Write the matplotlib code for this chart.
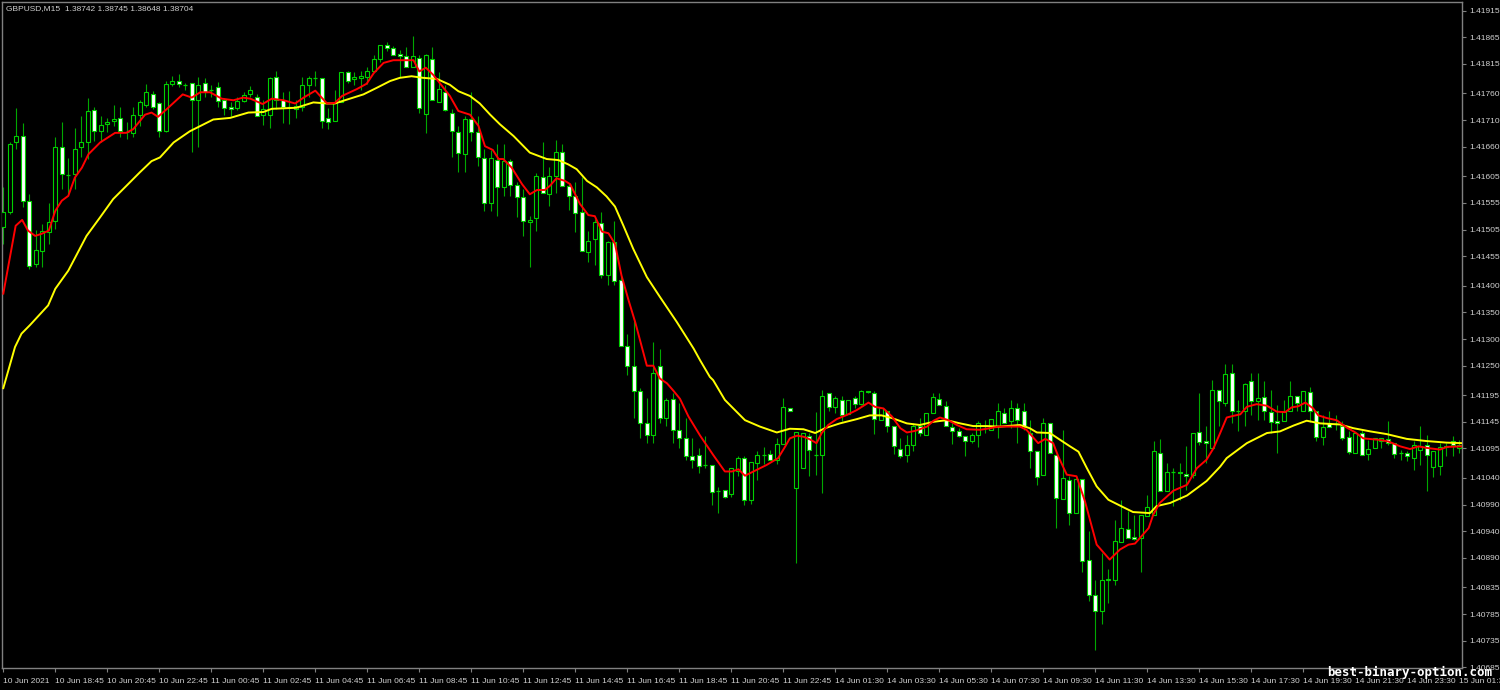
import numpy as np
import matplotlib
matplotlib.use('Agg')
import matplotlib.pyplot as plt

# GBPUSD M15 candles
opens = [1.41510, 1.41538, 1.41668, 1.41681, 1.41558, 1.41441, 1.41465, 1.41500, 1.41521, 1.41659,
         1.41607, 1.41609, 1.41659, 1.41668, 1.41728, 1.41689, 1.41702, 1.41709, 1.41713, 1.41687,
         1.41685, 1.41719, 1.41739, 1.41758, 1.41741, 1.41689, 1.41778, 1.41784, 1.41775, 1.41780,
         1.41748, 1.41780, 1.41767, 1.41771, 1.41748, 1.41734, 1.41732, 1.41745, 1.41758, 1.41754,
         1.41719, 1.41719, 1.41790, 1.41748, 1.41734, 1.41730, 1.41735, 1.41775, 1.41788, 1.41788,
         1.41713, 1.41709, 1.41743, 1.41799, 1.41786, 1.41788, 1.41791, 1.41801, 1.41825, 1.41851,
         1.41845, 1.41834, 1.41829, 1.41810, 1.41827, 1.41722, 1.41825, 1.41743, 1.41762, 1.41724,
         1.41687, 1.41646, 1.41711, 1.41687, 1.41638, 1.41554, 1.41635, 1.41584, 1.41633, 1.41588,
         1.41566, 1.41519, 1.41526, 1.41603, 1.41571, 1.41605, 1.41651, 1.41586, 1.41568, 1.41538,
         1.41463, 1.41487, 1.41517, 1.41420, 1.41482, 1.41411, 1.41286, 1.41250, 1.41202, 1.41142,
         1.41120, 1.41249, 1.41152, 1.41187, 1.41129, 1.41114, 1.41081, 1.41083, 1.41064, 1.41064,
         1.41015, 1.41017, 1.41010, 1.41053, 1.41077, 1.40999, 1.41068, 1.41083, 1.41084, 1.41073,
         1.41103, 1.41170, 1.41021, 1.41058, 1.41118, 1.41083, 1.41083, 1.41198, 1.41172, 1.41185,
         1.41159, 1.41189, 1.41178, 1.41202, 1.41198, 1.41148, 1.41165, 1.41138, 1.41094, 1.41083,
         1.41101, 1.41138, 1.41120, 1.41161, 1.41187, 1.41174, 1.41135, 1.41127, 1.41118, 1.41109,
         1.41120, 1.41137, 1.41129, 1.41138, 1.41161, 1.41146, 1.41170, 1.41166, 1.41124, 1.41090,
         1.41045, 1.41142, 1.41083, 1.41000, 1.41036, 1.40974, 1.41038, 1.40887, 1.40821, 1.40790,
         1.40848, 1.40849, 1.40920, 1.40945, 1.40930, 1.40928, 1.40969, 1.40971, 1.41086, 1.41015,
         1.41051, 1.41051, 1.41047, 1.41045, 1.41125, 1.41109, 1.41096, 1.41204, 1.41181, 1.41237,
         1.41166, 1.41165, 1.41221, 1.41183, 1.41191, 1.41163, 1.41146, 1.41146, 1.41165, 1.41194,
         1.41166, 1.41200, 1.41166, 1.41116, 1.41142, 1.41140, 1.41138, 1.41116, 1.41086, 1.41124,
         1.41084, 1.41096, 1.41109, 1.41112, 1.41105, 1.41086, 1.41086, 1.41077, 1.41092, 1.41101,
         1.41060, 1.41062, 1.41097, 1.41109, 1.41096]

highs = [1.41584, 1.41668, 1.41732, 1.41704, 1.41571, 1.41504, 1.41515, 1.41554, 1.41679, 1.41707,
         1.41638, 1.41696, 1.41717, 1.41752, 1.41734, 1.41717, 1.41713, 1.41739, 1.41734, 1.41706,
         1.41735, 1.41747, 1.41778, 1.41765, 1.41743, 1.41784, 1.41793, 1.41797, 1.41780, 1.41780,
         1.41790, 1.41788, 1.41776, 1.41782, 1.41752, 1.41743, 1.41754, 1.41763, 1.41773, 1.41758,
         1.41748, 1.41791, 1.41801, 1.41762, 1.41765, 1.41748, 1.41791, 1.41793, 1.41801, 1.41788,
         1.41732, 1.41767, 1.41799, 1.41801, 1.41799, 1.41801, 1.41810, 1.41832, 1.41851, 1.41857,
         1.41849, 1.41842, 1.41847, 1.41868, 1.41832, 1.41834, 1.41847, 1.41799, 1.41776, 1.41730,
         1.41698, 1.41717, 1.41763, 1.41717, 1.41655, 1.41653, 1.41666, 1.41666, 1.41637, 1.41594,
         1.41581, 1.41530, 1.41610, 1.41668, 1.41622, 1.41672, 1.41666, 1.41592, 1.41594, 1.41603,
         1.41502, 1.41525, 1.41538, 1.41484, 1.41521, 1.41418, 1.41310, 1.41333, 1.41208, 1.41189,
         1.41295, 1.41282, 1.41189, 1.41198, 1.41180, 1.41152, 1.41114, 1.41096, 1.41118, 1.41064,
         1.41023, 1.41017, 1.41058, 1.41081, 1.41081, 1.41070, 1.41090, 1.41097, 1.41092, 1.41114,
         1.41189, 1.41170, 1.41125, 1.41124, 1.41124, 1.41163, 1.41204, 1.41198, 1.41194, 1.41194,
         1.41185, 1.41193, 1.41204, 1.41202, 1.41202, 1.41170, 1.41166, 1.41138, 1.41114, 1.41120,
         1.41142, 1.41153, 1.41161, 1.41198, 1.41198, 1.41183, 1.41142, 1.41133, 1.41118, 1.41124,
         1.41146, 1.41148, 1.41150, 1.41180, 1.41170, 1.41185, 1.41180, 1.41180, 1.41148, 1.41090,
         1.41152, 1.41142, 1.41083, 1.41129, 1.41043, 1.41040, 1.41038, 1.40941, 1.40848, 1.40900,
         1.40870, 1.40961, 1.40999, 1.40978, 1.40971, 1.40971, 1.41008, 1.41109, 1.41112, 1.41068,
         1.41058, 1.41068, 1.41099, 1.41124, 1.41198, 1.41138, 1.41224, 1.41204, 1.41254, 1.41254,
         1.41185, 1.41217, 1.41236, 1.41236, 1.41222, 1.41204, 1.41176, 1.41185, 1.41221, 1.41194,
         1.41202, 1.41211, 1.41166, 1.41157, 1.41166, 1.41157, 1.41146, 1.41127, 1.41124, 1.41129,
         1.41111, 1.41114, 1.41114, 1.41146, 1.41105, 1.41092, 1.41090, 1.41109, 1.41137, 1.41120,
         1.41090, 1.41105, 1.41105, 1.41118, 1.41111]

lows = [1.41478, 1.41534, 1.41655, 1.41547, 1.41431, 1.41435, 1.41435, 1.41478, 1.41506, 1.41581,
        1.41571, 1.41581, 1.41640, 1.41637, 1.41670, 1.41668, 1.41687, 1.41698, 1.41678, 1.41674,
        1.41678, 1.41698, 1.41735, 1.41730, 1.41679, 1.41687, 1.41773, 1.41771, 1.41767, 1.41650,
        1.41659, 1.41754, 1.41754, 1.41734, 1.41720, 1.41717, 1.41728, 1.41743, 1.41754, 1.41717,
        1.41700, 1.41696, 1.41730, 1.41704, 1.41702, 1.41713, 1.41726, 1.41754, 1.41773, 1.41696,
        1.41694, 1.41709, 1.41743, 1.41780, 1.41775, 1.41767, 1.41778, 1.41799, 1.41819, 1.41840,
        1.41831, 1.41791, 1.41810, 1.41810, 1.41724, 1.41685, 1.41747, 1.41743, 1.41726, 1.41640,
        1.41612, 1.41612, 1.41670, 1.41623, 1.41540, 1.41540, 1.41530, 1.41568, 1.41568, 1.41528,
        1.41493, 1.41435, 1.41502, 1.41573, 1.41549, 1.41573, 1.41586, 1.41541, 1.41500, 1.41465,
        1.41444, 1.41439, 1.41415, 1.41402, 1.41402, 1.41286, 1.41232, 1.41152, 1.41114, 1.41105,
        1.41105, 1.41142, 1.41137, 1.41105, 1.41096, 1.41073, 1.41058, 1.41049, 1.41058, 1.40989,
        1.40974, 1.41002, 1.41004, 1.41043, 1.40989, 1.40991, 1.41036, 1.41066, 1.41073, 1.41066,
        1.41103, 1.41165, 1.40881, 1.41058, 1.41043, 1.41045, 1.41012, 1.41165, 1.41161, 1.41146,
        1.41159, 1.41170, 1.41176, 1.41198, 1.41122, 1.41148, 1.41125, 1.41084, 1.41077, 1.41070,
        1.41090, 1.41118, 1.41120, 1.41161, 1.41176, 1.41137, 1.41103, 1.41116, 1.41081, 1.41105,
        1.41097, 1.41124, 1.41129, 1.41114, 1.41142, 1.41133, 1.41105, 1.41129, 1.41058, 1.41027,
        1.41045, 1.41086, 1.40946, 1.41000, 1.40952, 1.40974, 1.40864, 1.40810, 1.40717, 1.40767,
        1.40806, 1.40840, 1.40920, 1.40928, 1.40924, 1.40864, 1.40969, 1.40971, 1.41015, 1.41015,
        1.40987, 1.40999, 1.41017, 1.41040, 1.41101, 1.41068, 1.41096, 1.41138, 1.41174, 1.41142,
        1.41127, 1.41138, 1.41157, 1.41148, 1.41148, 1.41124, 1.41086, 1.41146, 1.41165, 1.41165,
        1.41166, 1.41144, 1.41109, 1.41101, 1.41135, 1.41129, 1.41111, 1.41084, 1.41086, 1.41083,
        1.41073, 1.41096, 1.41096, 1.41101, 1.41077, 1.41073, 1.41071, 1.41055, 1.41064, 1.41015,
        1.41042, 1.41045, 1.41081, 1.41081, 1.41086]

closes = [1.41538, 1.41666, 1.41681, 1.41558, 1.41437, 1.41467, 1.41502, 1.41519, 1.41659, 1.41609,
          1.41607, 1.41655, 1.41668, 1.41726, 1.41689, 1.41700, 1.41707, 1.41711, 1.41689, 1.41688,
          1.41719, 1.41743, 1.41763, 1.41735, 1.41689, 1.41778, 1.41784, 1.41778, 1.41775, 1.41748,
          1.41776, 1.41763, 1.41767, 1.41745, 1.41732, 1.41730, 1.41745, 1.41756, 1.41767, 1.41717,
          1.41730, 1.41788, 1.41747, 1.41734, 1.41734, 1.41737, 1.41775, 1.41788, 1.41788, 1.41709,
          1.41707, 1.41741, 1.41799, 1.41784, 1.41790, 1.41793, 1.41801, 1.41825, 1.41851, 1.41844,
          1.41832, 1.41829, 1.41810, 1.41829, 1.41732, 1.41831, 1.41748, 1.41769, 1.41728, 1.41689,
          1.41648, 1.41711, 1.41687, 1.41640, 1.41554, 1.41638, 1.41584, 1.41633, 1.41588, 1.41566,
          1.41521, 1.41523, 1.41605, 1.41573, 1.41605, 1.41650, 1.41586, 1.41568, 1.41536, 1.41465,
          1.41484, 1.41519, 1.41420, 1.41482, 1.41409, 1.41286, 1.41250, 1.41202, 1.41142, 1.41120,
          1.41236, 1.41152, 1.41185, 1.41129, 1.41114, 1.41081, 1.41073, 1.41062, 1.41064, 1.41014,
          1.41015, 1.41004, 1.41058, 1.41077, 1.40999, 1.41070, 1.41083, 1.41083, 1.41073, 1.41103,
          1.41172, 1.41165, 1.41125, 1.41124, 1.41092, 1.41083, 1.41193, 1.41172, 1.41189, 1.41157,
          1.41185, 1.41178, 1.41202, 1.41201, 1.41150, 1.41170, 1.41137, 1.41099, 1.41081, 1.41101,
          1.41137, 1.41124, 1.41161, 1.41191, 1.41176, 1.41138, 1.41127, 1.41118, 1.41109, 1.41120,
          1.41142, 1.41137, 1.41150, 1.41166, 1.41142, 1.41170, 1.41148, 1.41137, 1.41090, 1.41042,
          1.41142, 1.41086, 1.41002, 1.41040, 1.40974, 1.41038, 1.40885, 1.40821, 1.40790, 1.40849,
          1.40851, 1.40922, 1.40946, 1.40928, 1.40926, 1.40971, 1.40986, 1.41090, 1.41015, 1.41051,
          1.41051, 1.41049, 1.41043, 1.41124, 1.41107, 1.41105, 1.41204, 1.41183, 1.41234, 1.41165,
          1.41166, 1.41215, 1.41183, 1.41189, 1.41165, 1.41144, 1.41142, 1.41165, 1.41194, 1.41181,
          1.41202, 1.41166, 1.41116, 1.41135, 1.41135, 1.41140, 1.41114, 1.41088, 1.41124, 1.41083,
          1.41094, 1.41114, 1.41114, 1.41105, 1.41084, 1.41086, 1.41081, 1.41101, 1.41099, 1.41083,
          1.41090, 1.41097, 1.41099, 1.41101, 1.41101]

# moving averages (bar index, price) sampled along the lines
red_idx = [0, 1.9, 2.9, 3.8, 4.9, 5.9, 7.0, 8.0, 9.0, 10.0,
           11.0, 12.1, 13.1, 14.9, 17.2, 18.9, 20.0, 21.8, 22.8, 23.8,
           25.1, 26.7, 27.6, 29.0, 30.3, 31.8, 33.6, 35.4, 36.9, 38.0,
           39.9, 41.3, 43.1, 44.9, 46.2, 48.0, 49.8, 51.0, 52.1, 54.4,
           55.9, 57.0, 58.5, 60.0, 63.1, 64.0, 65.0, 66.1, 66.9, 68.7,
           70.0, 71.8, 73.1, 74.1, 75.3, 76.2, 76.9, 78.2, 79.8, 81.0,
           82.1, 83.3, 84.1, 85.1, 86.4, 87.2, 88.7, 90.0, 91.0, 92.1,
           93.1, 94.1, 95.1, 96.2, 97.2, 98.1, 99.0, 100.0, 101.0, 102.1,
           103.1, 104.1, 105.4, 107.2, 109.2, 111.0, 112.1, 113.1, 114.1, 115.4,
           117.4, 119.2, 120.3, 121.0, 122.1, 123.1, 124.1, 125.1, 125.9, 126.9,
           128.2, 129.8, 131.3, 133.1, 134.1, 135.4, 136.7, 138.0, 139.0, 140.3,
           142.1, 143.1, 144.1, 145.4, 146.7, 148.2, 150.3, 151.8, 153.1, 156.4,
           157.4, 159.2, 160.3, 161.5, 162.3, 163.6, 165.1, 166.4, 168.2, 170.2,
           171.8, 173.1, 174.1, 176.2, 176.9, 177.9, 180.0, 182.1, 183.6, 185.1,
           186.2, 187.2, 188.2, 189.2, 190.3, 191.3, 192.8, 194.4, 195.9, 197.2,
           198.2, 199.2, 200.3, 201.5, 202.3, 203.6, 205.1, 206.7, 208.0, 209.2,
           211.8, 213.1, 214.9, 216.4, 217.7, 219.0, 221.0, 222.1, 224.4]
red_ma = [1.41385, 1.41512, 1.41523, 1.41503, 1.41493, 1.41497, 1.41503, 1.41540, 1.41559, 1.41568,
          1.41602, 1.41621, 1.41646, 1.41668, 1.41686, 1.41686, 1.41693, 1.41720, 1.41724, 1.41716,
          1.41730, 1.41748, 1.41758, 1.41752, 1.41762, 1.41762, 1.41750, 1.41747, 1.41752, 1.41750,
          1.41740, 1.41750, 1.41747, 1.41741, 1.41752, 1.41765, 1.41741, 1.41742, 1.41755, 1.41768,
          1.41778, 1.41798, 1.41817, 1.41822, 1.41822, 1.41801, 1.41808, 1.41795, 1.41783, 1.41755,
          1.41727, 1.41720, 1.41699, 1.41661, 1.41654, 1.41637, 1.41637, 1.41621, 1.41590, 1.41571,
          1.41579, 1.41579, 1.41587, 1.41601, 1.41596, 1.41590, 1.41553, 1.41532, 1.41530, 1.41501,
          1.41498, 1.41478, 1.41419, 1.41372, 1.41332, 1.41291, 1.41250, 1.41250, 1.41226, 1.41217,
          1.41203, 1.41188, 1.41155, 1.41119, 1.41083, 1.41052, 1.41052, 1.41056, 1.41044, 1.41052,
          1.41064, 1.41077, 1.41099, 1.41114, 1.41119, 1.41117, 1.41112, 1.41105, 1.41124, 1.41139,
          1.41150, 1.41158, 1.41167, 1.41181, 1.41173, 1.41170, 1.41155, 1.41133, 1.41125, 1.41128,
          1.41136, 1.41147, 1.41153, 1.41148, 1.41139, 1.41131, 1.41130, 1.41133, 1.41136, 1.41136,
          1.41130, 1.41105, 1.41113, 1.41105, 1.41080, 1.41046, 1.41043, 1.40996, 1.40915, 1.40887,
          1.40906, 1.40915, 1.40917, 1.40946, 1.40971, 1.40993, 1.41016, 1.41027, 1.41058, 1.41074,
          1.41096, 1.41124, 1.41153, 1.41156, 1.41159, 1.41173, 1.41178, 1.41175, 1.41164, 1.41163,
          1.41172, 1.41174, 1.41181, 1.41170, 1.41157, 1.41152, 1.41148, 1.41134, 1.41125, 1.41114,
          1.41111, 1.41108, 1.41099, 1.41094, 1.41099, 1.41096, 1.41093, 1.41098, 1.41099]

yellow_idx = [0, 1.8, 2.8, 4.1, 6.9, 8.0, 10.0, 12.8, 14.9, 16.9,
              19.2, 21.0, 22.8, 24.1, 26.2, 28.7, 32.3, 34.9, 37.7, 40.0,
              41.3, 45.1, 47.7, 49.8, 51.0, 52.8, 55.4, 57.4, 59.5, 61.0,
              62.8, 64.6, 66.7, 68.7, 70.0, 71.8, 73.3, 74.9, 76.4, 78.5,
              81.0, 83.6, 85.4, 86.9, 88.2, 89.8, 91.3, 92.8, 94.1, 95.4,
              96.9, 99.0, 101.0, 103.6, 106.2, 107.2, 108.7, 109.2, 111.0, 112.3,
              114.1, 116.4, 119.0, 121.0, 123.1, 124.9, 126.4, 128.7, 131.3, 133.3,
              135.1, 136.7, 139.0, 141.0, 143.1, 145.1, 147.2, 149.2, 151.3, 153.3,
              156.4, 157.9, 159.0, 161.0, 162.6, 164.1, 165.4, 166.7, 168.2, 170.0,
              172.3, 173.8, 176.4, 177.4, 179.5, 182.1, 185.1, 187.2, 188.2, 191.3,
              194.4, 196.4, 198.5, 200.5, 202.6, 205.6, 207.7, 210.3, 212.8, 215.9,
              218.9, 222.0, 224.4]
yellow_ma = [1.41208, 1.41285, 1.41310, 1.41326, 1.41363, 1.41394, 1.41428, 1.41493, 1.41528, 1.41562,
             1.41590, 1.41612, 1.41633, 1.41640, 1.41668, 1.41689, 1.41711, 1.41714, 1.41724, 1.41725,
             1.41731, 1.41733, 1.41743, 1.41741, 1.41741, 1.41748, 1.41758, 1.41770, 1.41783, 1.41789,
             1.41792, 1.41789, 1.41787, 1.41776, 1.41764, 1.41755, 1.41741, 1.41720, 1.41702, 1.41680,
             1.41649, 1.41637, 1.41635, 1.41627, 1.41618, 1.41596, 1.41584, 1.41567, 1.41548, 1.41512,
             1.41469, 1.41416, 1.41379, 1.41332, 1.41282, 1.41260, 1.41229, 1.41223, 1.41186, 1.41170,
             1.41148, 1.41136, 1.41125, 1.41132, 1.41131, 1.41124, 1.41133, 1.41142, 1.41150, 1.41157,
             1.41157, 1.41152, 1.41142, 1.41139, 1.41145, 1.41148, 1.41142, 1.41137, 1.41137, 1.41136,
             1.41139, 1.41133, 1.41125, 1.41124, 1.41111, 1.41099, 1.41089, 1.41058, 1.41024, 1.40999,
             1.40985, 1.40976, 1.40974, 1.40987, 1.40993, 1.41007, 1.41034, 1.41061, 1.41077, 1.41105,
             1.41124, 1.41127, 1.41138, 1.41147, 1.41142, 1.41140, 1.41133, 1.41127, 1.41122, 1.41113,
             1.41109, 1.41106, 1.41105]

price_labels = ['1.41915', '1.41865', '1.41815', '1.41760', '1.41710', '1.41660', '1.41605',
                '1.41555', '1.41505', '1.41455', '1.41400', '1.41350', '1.41300', '1.41250',
                '1.41195', '1.41145', '1.41095', '1.41040', '1.40990', '1.40940', '1.40890',
                '1.40835', '1.40785', '1.40735', '1.40685']

time_labels = ['10 Jun 2021', '10 Jun 18:45', '10 Jun 20:45', '10 Jun 22:45', '11 Jun 00:45',
               '11 Jun 02:45', '11 Jun 04:45', '11 Jun 06:45', '11 Jun 08:45', '11 Jun 10:45',
               '11 Jun 12:45', '11 Jun 14:45', '11 Jun 16:45', '11 Jun 18:45', '11 Jun 20:45',
               '11 Jun 22:45', '14 Jun 01:30', '14 Jun 03:30', '14 Jun 05:30', '14 Jun 07:30',
               '14 Jun 09:30', '14 Jun 11:30', '14 Jun 13:30', '14 Jun 15:30', '14 Jun 17:30',
               '14 Jun 19:30', '14 Jun 21:30', '14 Jun 23:30', '15 Jun 01:30']
label_step = 8  # one time label every 8 bars (2 hours of M15)

o = np.array(opens)
h = np.array(highs)
l = np.array(lows)
c = np.array(closes)
x = np.arange(len(o))

wick_green = '#00a800'
edge_green = '#00d000'
grey = '#808080'
txt = '#d0d0d0'

fig = plt.figure(figsize=(15, 6.9), dpi=100, facecolor='black')
ax = fig.add_axes([2 / 1500, 22 / 690, 1460 / 1500, 666 / 690])
ax.set_facecolor('black')

# wicks
ax.vlines(x, np.minimum(l, np.minimum(o, c)), np.maximum(h, np.maximum(o, c)),
          color=wick_green, linewidth=0.8, zorder=2)

bull = c > o
bear = c < o
doji = c == o
ax.bar(x[bull], (c - o)[bull], bottom=o[bull], width=0.64, color='black',
       edgecolor=edge_green, linewidth=0.8, zorder=3)
ax.bar(x[bear], (o - c)[bear], bottom=c[bear], width=0.64, color='white',
       edgecolor=edge_green, linewidth=0.8, zorder=3)
ax.hlines(o[doji], x[doji] - 0.32, x[doji] + 0.32, color=edge_green, linewidth=0.9, zorder=3)

# moving averages
ax.plot(yellow_idx, yellow_ma, color='#ffff00', linewidth=1.4, zorder=4)
ax.plot(red_idx, red_ma, color='#ff0000', linewidth=1.4, zorder=5)

ax.set_xlim(-0.2, 224.4)
ax.set_ylim(1.40684, 1.41931)

# price axis on the right
ax.yaxis.tick_right()
ax.set_yticks([float(p) for p in price_labels])
ax.set_yticklabels(price_labels)
ax.tick_params(axis='y', colors=grey, length=3, width=0.8, pad=2,
               labelcolor=txt, labelsize=6)

ax.set_xticks(np.arange(len(time_labels)) * label_step)
ax.set_xticklabels(time_labels)
ax.tick_params(axis='x', colors=grey, length=3, width=0.8, pad=4,
               labelcolor=txt, labelsize=6)
for lab in ax.get_xticklabels():
    lab.set_horizontalalignment('left')
for lab in ax.get_xticklabels() + ax.get_yticklabels():
    lab.set_fontfamily('Liberation Sans')

for sp in ax.spines.values():
    sp.set_color(grey)
    sp.set_linewidth(1)

fig.text(6 / 1500, 1 - 9 / 690, 'GBPUSD,M15  1.38742 1.38745 1.38648 1.38704',
         color=txt, fontsize=6, family='Liberation Sans', va='center', ha='left')

# site watermark drawn over the bottom-right corner, as in the screenshot
fig.text(1410 / 1500, 1 - 672 / 690, 'best-binary-option.com', color='white',
         fontsize=9, family='DejaVu Sans Mono', weight='bold', va='center', ha='center')

fig.savefig('out.png', dpi=100, facecolor='black')
